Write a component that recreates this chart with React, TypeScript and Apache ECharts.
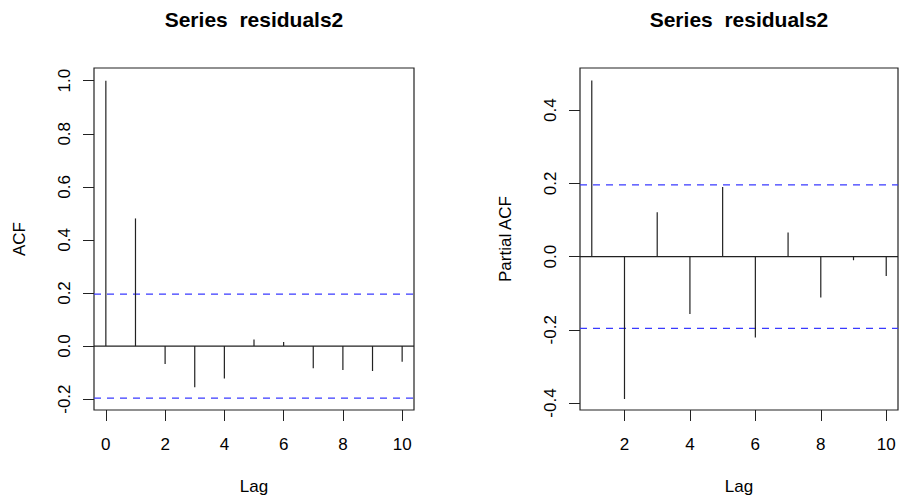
import React, { useEffect, useRef } from "react";
import * as echarts from "echarts";

// ---- data ----
const acfLags = [0, 1, 2, 3, 4, 5, 6, 7, 8, 9, 10];
const acfValues = [1.0, 0.481, -0.068, -0.155, -0.122, 0.025, 0.015, -0.084, -0.09, -0.094, -0.059];
const pacfLags = [1, 2, 3, 4, 5, 6, 7, 8, 9, 10];
const pacfValues = [0.481, -0.389, 0.121, -0.157, 0.19, -0.221, 0.066, -0.112, -0.01, -0.053];
const ciBound = 0.196;
// horizontal reference lines: [value, kind] (kind 0 = zero line, 1 = confidence bound)
const refValues = [
  [0, 0],
  [ciBound, 1],
  [-ciBound, 1],
];

const acfXTicks = [0, 2, 4, 6, 8, 10];
const pacfXTicks = [2, 4, 6, 8, 10];
const acfYTicks = [-0.2, 0, 0.2, 0.4, 0.6, 0.8, 1.0];
const pacfYTicks = [-0.4, -0.2, 0, 0.2, 0.4];

const titleText = "Series  residuals2";
const xName = "Lag";
const acfName = "ACF";
const pacfName = "Partial ACF";

const FONT = '"Liberation Sans", Arial, Helvetica, sans-serif';
const INK = "#222";
const BLUE = "#3a3aff";

function xAxis(gridIndex: number, min: number, max: number, ticks: number[]) {
  return {
    type: "value",
    gridIndex,
    min,
    max,
    axisLine: { show: false, onZero: false },
    axisTick: { show: true, length: 11, lineStyle: { color: INK }, customValues: ticks },
    axisLabel: {
      show: true,
      customValues: ticks,
      margin: 26,
      fontSize: 17,
      fontFamily: FONT,
      color: "#000",
      formatter: (v: number) => String(v),
    },
    splitLine: { show: false },
    name: xName,
    nameLocation: "middle",
    nameGap: 68,
    nameTextStyle: { fontSize: 17, fontFamily: FONT, color: "#000" },
  };
}

function yAxis(gridIndex: number, min: number, max: number, ticks: number[], name: string) {
  return {
    type: "value",
    gridIndex,
    min,
    max,
    axisLine: { show: false, onZero: false },
    axisTick: { show: true, length: 11, lineStyle: { color: INK }, customValues: ticks },
    axisLabel: {
      show: true,
      customValues: ticks,
      rotate: 90,
      margin: 21,
      fontSize: 17,
      fontFamily: FONT,
      color: "#000",
      formatter: (v: number) => v.toFixed(1),
    },
    splitLine: { show: false },
    name,
    nameLocation: "middle",
    nameGap: 66,
    nameTextStyle: { fontSize: 17, fontFamily: FONT, color: "#000" },
  };
}

function stems(idx: number, lags: number[], vals: number[]) {
  return {
    type: "custom",
    xAxisIndex: idx,
    yAxisIndex: idx,
    silent: true,
    z: 3,
    data: lags.map((l, i) => [l, vals[i]]),
    renderItem: (_p: any, api: any) => {
      const a = api.coord([api.value(0), 0]);
      const b = api.coord([api.value(0), api.value(1)]);
      return {
        type: "line",
        shape: { x1: a[0], y1: a[1], x2: b[0], y2: b[1] },
        style: { stroke: INK, lineWidth: 1.2 },
      };
    },
  };
}

function refLines(idx: number, xMid: number) {
  return {
    type: "custom",
    xAxisIndex: idx,
    yAxisIndex: idx,
    silent: true,
    z: 2,
    data: refValues.map((r) => [xMid, r[0], r[1]]),
    renderItem: (params: any, api: any) => {
      const cs = params.coordSys;
      const p = api.coord([api.value(0), api.value(1)]);
      const dashed = api.value(2) === 1;
      return {
        type: "line",
        shape: { x1: cs.x, y1: p[1], x2: cs.x + cs.width, y2: p[1] },
        style: dashed
          ? { stroke: BLUE, lineWidth: 1.2, lineDash: [7, 6] }
          : { stroke: INK, lineWidth: 1.2 },
      };
    },
  };
}

export default function App() {
  const ref = useRef<HTMLDivElement>(null);
  useEffect(() => {
    if (!ref.current) return;
    const chart = echarts.init(ref.current, undefined, { renderer: "svg" });
    chart.setOption({
      animation: false,
      backgroundColor: "#fff",
      grid: [
        { left: 94, right: 485, top: 68, bottom: 92, show: true, borderColor: INK, borderWidth: 1.2, backgroundColor: "transparent" },
        { left: 580, right: 1, top: 68, bottom: 92, show: true, borderColor: INK, borderWidth: 1.2, backgroundColor: "transparent" },
      ],
      xAxis: [xAxis(0, -0.4, 10.4, acfXTicks), xAxis(1, 0.64, 10.36, pacfXTicks)],
      yAxis: [yAxis(0, -0.241, 1.048, acfYTicks, acfName), yAxis(1, -0.419, 0.515, pacfYTicks, pacfName)],
      graphic: [
        {
          type: "text",
          x: 254,
          y: 19.5,
          style: { text: titleText, fontSize: 21, fontWeight: "bold", fontFamily: FONT, fill: "#000", align: "center", verticalAlign: "middle" },
        },
        {
          type: "text",
          x: 739,
          y: 19.5,
          style: { text: titleText, fontSize: 21, fontWeight: "bold", fontFamily: FONT, fill: "#000", align: "center", verticalAlign: "middle" },
        },
      ],
      series: [refLines(0, 5), stems(0, acfLags, acfValues), refLines(1, 5.5), stems(1, pacfLags, pacfValues)],
    });
    return () => chart.dispose();
  }, []);
  return <div ref={ref} style={{ position: "fixed", left: 0, top: 0, width: 899, height: 502 }} />;
}
